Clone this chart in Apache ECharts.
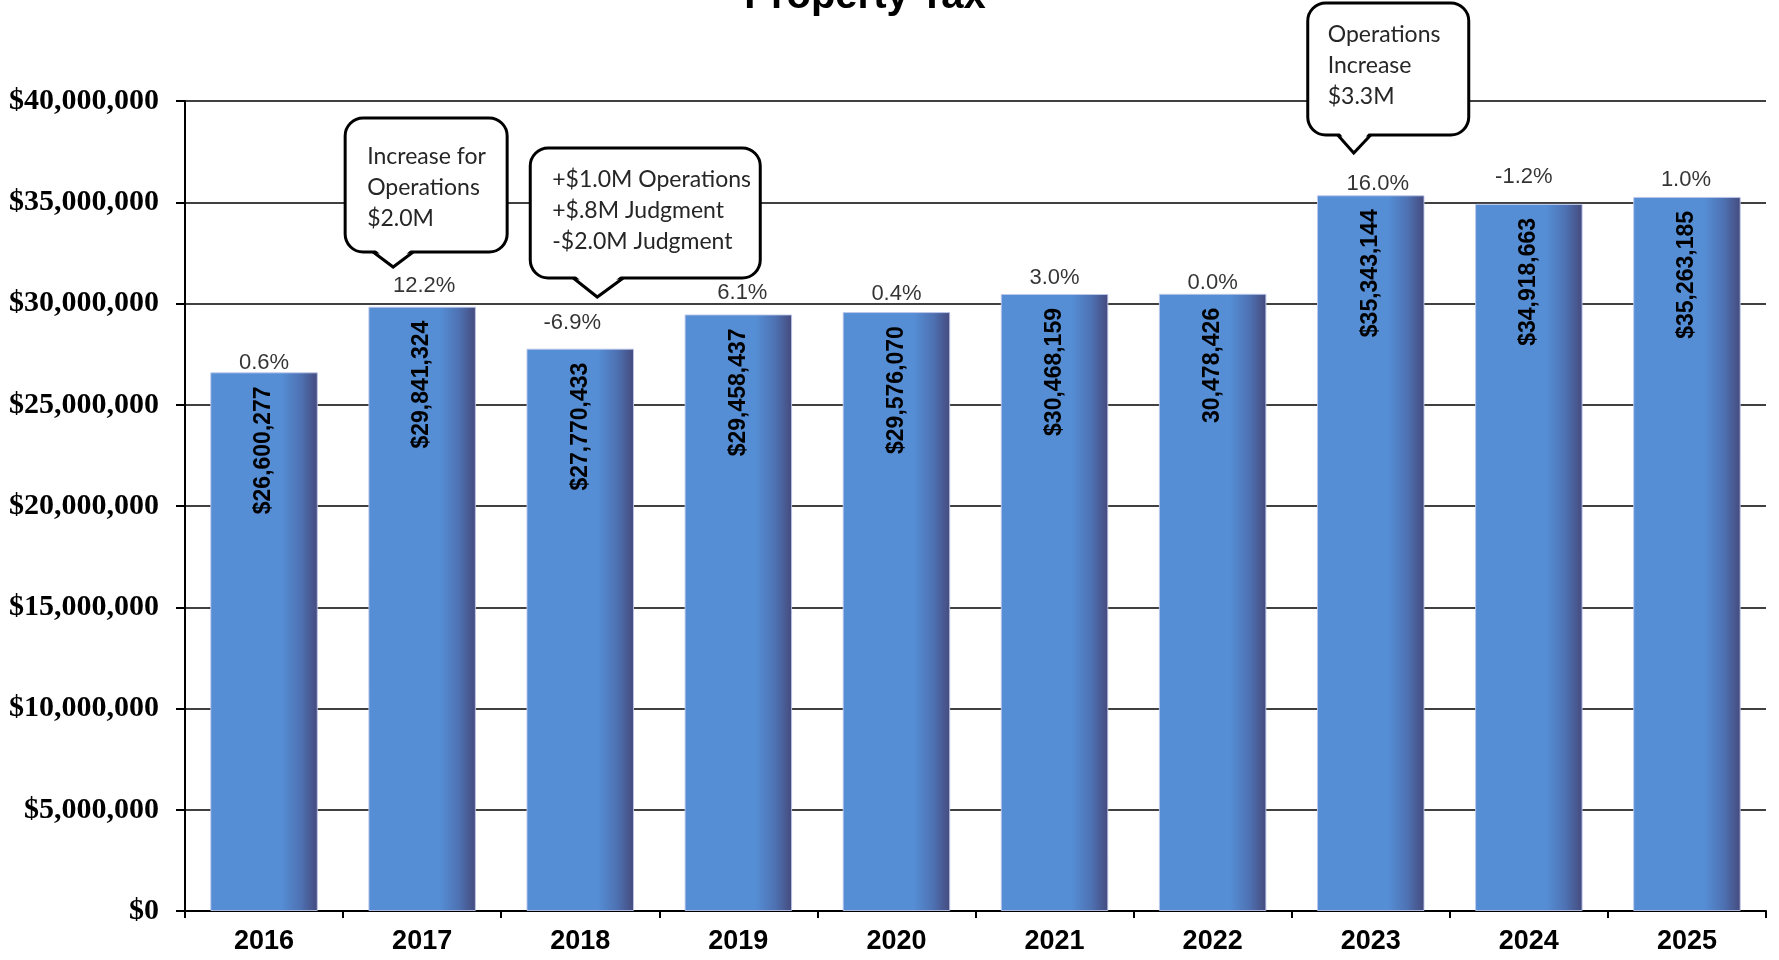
<!DOCTYPE html>
<html>
<head>
<meta charset="utf-8">
<title>Property Tax</title>
<script src="https://cdn.jsdelivr.net/npm/echarts@6/dist/echarts.min.js"></script>
<style>
  html, body { margin: 0; padding: 0; background: #ffffff; }
  #chart { width: 1779px; height: 960px; }
</style>
</head>
<body>
<div id="chart"></div>
<script>
// Fiscal years on the category axis
const years = ['2016', '2017', '2018', '2019', '2020', '2021', '2022', '2023', '2024', '2025'];

// Property tax levy per year (dollars)
const propertyTax = [26600277, 29841324, 27770433, 29458437, 29576070, 30468159, 30478426, 35343144, 34918663, 35263185];

// Year-over-year change shown above each bar
const pctChange = ['0.6%', '12.2%', '-6.9%', '6.1%', '0.4%', '3.0%', '0.0%', '16.0%', '-1.2%', '1.0%'];

// Years whose value label is printed without the dollar sign
const plainValueYears = ['2022'];

// Value axis range
const yMin = 0;
const yMax = 40000000;
const yStep = 5000000;

// Callout notes attached to particular years
const calloutYears = ['2017', '2018', '2023'];
const calloutLines = [
  ['Increase for', 'Operations', '$2.0M'],
  ['+$1.0M Operations', '+$.8M Judgment', '-$2.0M Judgment'],
  ['Operations', 'Increase', '$3.3M']
];

// ---- presentation settings ----
// small hand nudges for the percentage labels: [dx, gap above bar]
const pctLabelNudge = [[0, 2], [2, 14], [-8, 19], [4, 15], [0, 11], [0, 9], [0, 4], [7, 4], [-5, 20], [-1, 10]];
// callout box geometry relative to the category centre: box left/right, top/bottom,
// pointer base left/right, pointer tip dx/y, text left/top
const calloutLayout = [
  { l: -77, r: 85, t: 118, b: 252, bl: -49, br: -9, tx: -29, ty: 267, txt: -55, tt: 141 },
  { l: -50, r: 180, t: 148, b: 278, bl: -7, br: 43, tx: 17, ty: 297, txt: -28, tt: 164 },
  { l: -63, r: 98, t: 3, b: 135, bl: -33, br: 0, tx: -17, ty: 153, txt: -43, tt: 19 }
];

const sansFont = "'Liberation Sans', Arial, sans-serif";
const serifFont = "'Liberation Serif', 'Times New Roman', serif";
const noteFont = "Lato, 'Open Sans', sans-serif";

function money(v) {
  return '$' + Math.round(v).toLocaleString('en-US');
}

const barFill = new echarts.graphic.LinearGradient(0, 0, 1, 0, [
  { offset: 0, color: '#558ED5' },
  { offset: 0.66, color: '#558ED5' },
  { offset: 0.84, color: '#4E72B3' },
  { offset: 1, color: '#454A7D' }
]);

const chart = echarts.init(document.getElementById('chart'), null, { renderer: 'canvas' });

const option = {
  backgroundColor: '#ffffff',
  animation: false,
  grid: { left: 185, right: 13, top: 101, bottom: 49, containLabel: false },
  xAxis: {
    type: 'category',
    data: years,
    axisLine: { show: true, lineStyle: { color: '#000', width: 2 } },
    axisTick: { show: true, interval: 0, length: 7, lineStyle: { color: '#000', width: 2 } },
    axisLabel: {
      interval: 0,
      margin: 17,
      color: '#000',
      fontFamily: sansFont,
      fontWeight: 'bold',
      fontSize: 27
    },
    splitLine: { show: false }
  },
  yAxis: {
    type: 'value',
    min: yMin,
    max: yMax,
    interval: yStep,
    axisLine: { show: true, lineStyle: { color: '#000', width: 2 } },
    axisTick: { show: true, length: 9, lineStyle: { color: '#000', width: 2 } },
    axisLabel: {
      margin: 26,
      color: '#000',
      fontFamily: serifFont,
      fontWeight: 'bold',
      fontSize: 30,
      formatter: v => money(v)
    },
    splitLine: { show: true, lineStyle: { color: '#000', width: 1.6 } }
  },
  series: [
    {
      name: 'Property Tax',
      type: 'bar',
      data: propertyTax,
      barWidth: '68%',
      itemStyle: { color: barFill, borderColor: 'rgba(190,200,235,0.9)', borderWidth: 1 },
      label: {
        show: true,
        position: 'insideTop',
        rotate: 90,
        align: 'right',
        verticalAlign: 'middle',
        distance: 14,
        color: '#000',
        fontFamily: sansFont,
        fontWeight: 'bold',
        fontSize: 23,
        formatter: p => plainValueYears.includes(years[p.dataIndex])
          ? Math.round(p.value).toLocaleString('en-US')
          : money(p.value)
      },
      z: 2
    },
    {
      name: 'Change',
      type: 'scatter',
      symbolSize: 0,
      silent: true,
      data: propertyTax.map((v, i) => ({
        value: v,
        label: { offset: [pctLabelNudge[i][0], -(pctLabelNudge[i][1] - 4)] }
      })),
      label: {
        show: true,
        position: 'top',
        distance: 0,
        color: '#000',
        fontFamily: sansFont,
        fontSize: 22,
        formatter: p => pctChange[p.dataIndex]
      },
      z: 3
    }
  ]
};

chart.setOption(option);

// Speech-bubble callouts, placed once the category axis is laid out
const graphics = [
  {
    type: 'text',
    x: 865,
    y: -3,
    z: 10,
    style: {
      text: 'Property Tax',
      font: "bold 40px " + sansFont,
      fill: '#000',
      align: 'center',
      verticalAlign: 'middle'
    }
  }
];

calloutYears.forEach((yr, i) => {
  const cx = chart.convertToPixel({ xAxisIndex: 0 }, yr);
  const L = calloutLayout[i];
  const x0 = cx + L.l, x1 = cx + L.r, y0 = L.t, y1 = L.b;
  const bl = cx + L.bl, br = cx + L.br, tx = cx + L.tx;
  // rounded box
  graphics.push({
    type: 'rect',
    z: 20,
    shape: { x: x0, y: y0, width: x1 - x0, height: y1 - y0, r: 18 },
    style: { fill: '#ffffff', stroke: '#000', lineWidth: 3 }
  });
  // white wedge hiding the box edge under the pointer
  graphics.push({
    type: 'polygon',
    z: 21,
    shape: { points: [[bl + 1, y1 - 3], [br - 1, y1 - 3], [tx, L.ty - 2]] },
    style: { fill: '#ffffff', stroke: null }
  });
  // pointer outline
  graphics.push({
    type: 'polyline',
    z: 22,
    shape: { points: [[bl, y1], [tx, L.ty], [br, y1]] },
    style: { fill: null, stroke: '#000', lineWidth: 3, lineJoin: 'miter' }
  });
  graphics.push({
    type: 'text',
    z: 23,
    x: cx + L.txt,
    y: L.tt,
    style: {
      text: calloutLines[i].join('\n'),
      font: "23px " + noteFont,
      fill: '#262626',
      lineHeight: 31,
      align: 'left',
      verticalAlign: 'top'
    }
  });
});

chart.setOption({ graphic: graphics });
</script>
</body>
</html>
